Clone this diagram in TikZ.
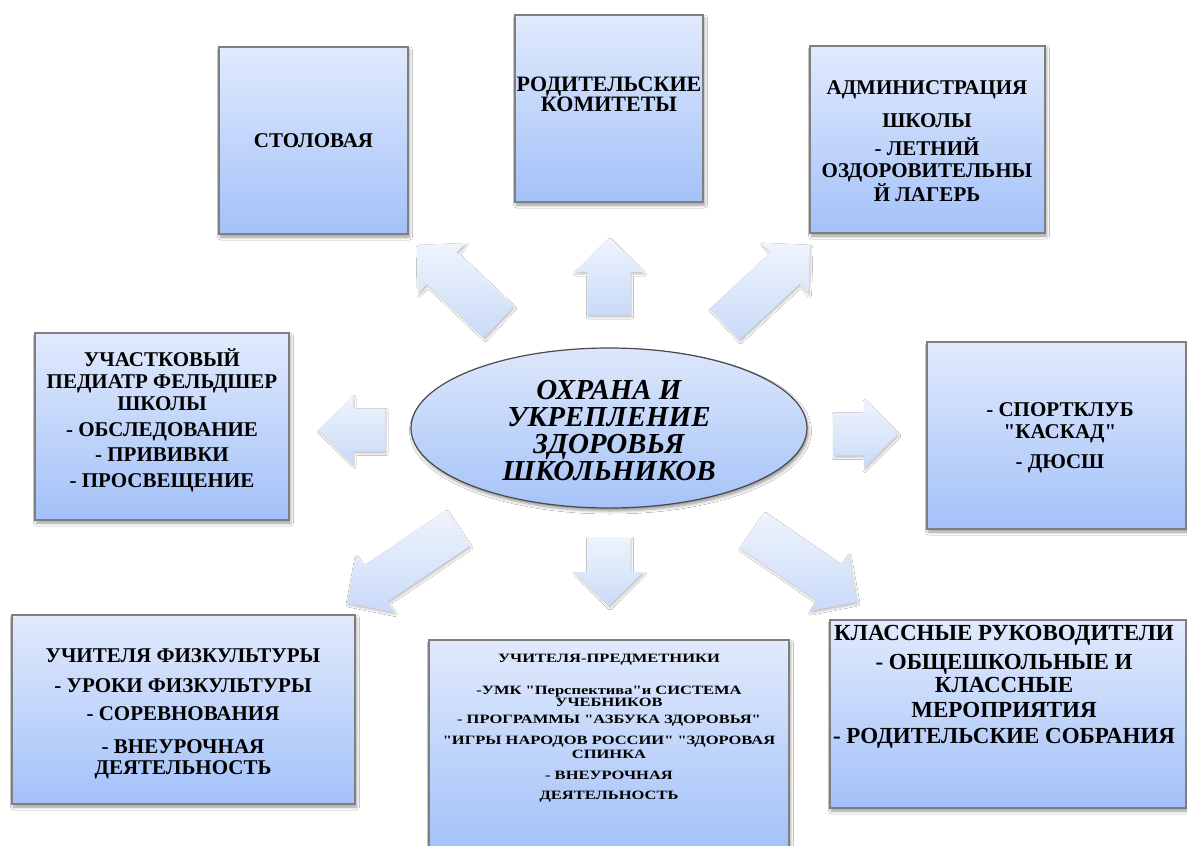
\documentclass[tikz,border=0pt]{standalone}
\usepackage{fontspec}
\setmainfont{Liberation Serif}[Ligatures=TeXOff]
\usetikzlibrary{calc,shapes.geometric,shadows.blur}
\definecolor{boxtop}{HTML}{E1EAFC}
\definecolor{boxbot}{HTML}{A3C1F9}
\definecolor{arrtop}{HTML}{EFF4FD}
\definecolor{arrbot}{HTML}{C9DAF8}
\definecolor{boxedge}{HTML}{7F7F7F}
\definecolor{hubedge}{HTML}{4A4A4A}
\definecolor{hubtop}{HTML}{DDE7FB}
\definecolor{hubbot}{HTML}{A6C3F8}
\newcommand\blockarrow[2]{%
  \coordinate (#1n) at ($(#2)!34pt!(#1)$);
  \shade[arrowfill] ($(#1)!21.5pt!90:(#2)$) -- ($(#1n)!21.5pt!90:(#2)$) -- ($(#1n)!34.5pt!90:(#2)$) -- (#2) -- ($(#1n)!34.5pt!-90:(#2)$) -- ($(#1n)!21.5pt!-90:(#2)$) -- ($(#1)!21.5pt!-90:(#2)$) -- cycle;
}
\tikzset{
  box/.style={rectangle, draw=boxedge, line width=1.2pt, top color=boxtop, bottom color=boxbot,
    blur shadow={shadow xshift=1.5pt, shadow yshift=-3pt, shadow blur radius=3pt, shadow opacity=40}, inner sep=0pt},
  hub/.style={ellipse, draw=hubedge, line width=1.2pt, top color=hubtop, bottom color=hubbot,
    blur shadow={shadow xshift=1.5pt, shadow yshift=-3pt, shadow blur radius=3pt, shadow opacity=40}, inner sep=0pt},
  arrowfill/.style={top color=arrtop, bottom color=arrbot,
    blur shadow={shadow xshift=1pt, shadow yshift=-2pt, shadow blur radius=2pt, shadow opacity=25}},
  txt/.style={font=\bfseries\fontsize{21}{22}\selectfont, align=center, inner sep=0pt},
  bigtxt/.style={font=\bfseries\fontsize{23}{22}\selectfont, align=center, inner sep=0pt},
  smalltxt/.style={font=\bfseries\fontsize{16.5}{15}\selectfont, align=center, inner sep=0pt, yscale=0.77, transform shape},
  hubtxt/.style={font=\bfseries\itshape\fontsize{29}{27}\selectfont, align=center, inner sep=0pt}
}
\begin{document}
\begin{tikzpicture}[x=1pt, y=-1pt]
\fill[white] (0,0) rectangle (1187,846);
\useasboundingbox (0,0) rectangle (1187,846);

% arrows
\coordinate (a1t) at (499,322); \coordinate (a1p) at (417,245);
\coordinate (a2t) at (609,315); \coordinate (a2p) at (609,238);
\coordinate (a3t) at (725,324); \coordinate (a3p) at (810,245);
\coordinate (a4t) at (385,430); \coordinate (a4p) at (319,430);
\coordinate (a5t) at (833,434); \coordinate (a5p) at (898,434);
\coordinate (a6t) at (458,528); \coordinate (a6p) at (347,603);
\coordinate (a7t) at (609,537); \coordinate (a7p) at (609,606);
\coordinate (a8t) at (752,530); \coordinate (a8p) at (857,602);
\blockarrow{a1t}{a1p}
\blockarrow{a2t}{a2p}
\blockarrow{a3t}{a3p}
\blockarrow{a4t}{a4p}
\blockarrow{a5t}{a5p}
\blockarrow{a6t}{a6p}
\blockarrow{a7t}{a7p}
\blockarrow{a8t}{a8p}

% centre
\node[hub, minimum width=396pt, minimum height=160pt] (hub) at (609,428) {};
\node[hubtxt] (hubt) at (609,431) {ОХРАНА И\\УКРЕПЛЕНИЕ\\ЗДОРОВЬЯ\\ШКОЛЬНИКОВ};

% boxes
\node[box, minimum width=189pt, minimum height=187pt] (stol) at (313.5,140.5) {};
\node[txt] (stolt) at (313.5,141) {СТОЛОВАЯ};

\node[box, minimum width=188pt, minimum height=187pt] (rod) at (609,108.5) {};
\node[txt, font=\bfseries\fontsize{22}{22}\selectfont] (rodt) at (609,94) {РОДИТЕЛЬСКИЕ\\[-2pt]КОМИТЕТЫ};

\node[box, minimum width=235pt, minimum height=187pt] (adm) at (927.5,139.5) {};
\node[txt] (admt) at (927,141) {АДМИНИСТРАЦИЯ\\[11pt]ШКОЛЫ\\[6pt]- ЛЕТНИЙ\\ОЗДОРОВИТЕЛЬНЫ\\[1pt]Й ЛАГЕРЬ};

\node[box, minimum width=254pt, minimum height=187pt] (ped) at (162,426.5) {};
\node[txt] (pedt) at (162,420) {УЧАСТКОВЫЙ\\ПЕДИАТР ФЕЛЬДШЕР\\ШКОЛЫ\\[4pt]- ОБСЛЕДОВАНИЕ\\[3pt]- ПРИВИВКИ\\[4pt]- ПРОСВЕЩЕНИЕ};

\node[box, minimum width=259pt, minimum height=187pt] (sport) at (1056.5,435.5) {};
\node[txt] (sportt) at (1060,438) {- СПОРТКЛУБ\\"КАСКАД"\\[8pt]- ДЮСШ};

\node[box, minimum width=343pt, minimum height=189pt] (fiz) at (183.5,709.5) {};
\node[txt] (fizt) at (183,714) {УЧИТЕЛЯ ФИЗКУЛЬТУРЫ\\[8pt]- УРОКИ ФИЗКУЛЬТУРЫ\\[6pt]- СОРЕВНОВАНИЯ\\[11pt]- ВНЕУРОЧНАЯ\\[-1pt]ДЕЯТЕЛЬНОСТЬ};

\node[box, minimum width=360pt, minimum height=210pt] (pred) at (609,745) {};
\node[smalltxt] (predt) at (609,728) {УЧИТЕЛЯ-ПРЕДМЕТНИКИ\\[27pt]-УМК "Перспектива"и СИСТЕМА\\[1pt]УЧЕБНИКОВ\\[7pt]- ПРОГРАММЫ "АЗБУКА ЗДОРОВЬЯ"\\[12pt]"ИГРЫ НАРОДОВ РОССИИ" "ЗДОРОВАЯ\\[3pt]СПИНКА\\[12pt]- ВНЕУРОЧНАЯ\\[11pt]ДЕЯТЕЛЬНОСТЬ};

\node[box, minimum width=356pt, minimum height=188pt] (klass) at (1008,714) {};
\node[bigtxt] (klasst) at (1004,687) {КЛАССНЫЕ РУКОВОДИТЕЛИ\\[7pt]- ОБЩЕШКОЛЬНЫЕ И\\[1pt]КЛАССНЫЕ\\[3pt]МЕРОПРИЯТИЯ\\[4pt]- РОДИТЕЛЬСКИЕ СОБРАНИЯ};
\end{tikzpicture}
\end{document}
